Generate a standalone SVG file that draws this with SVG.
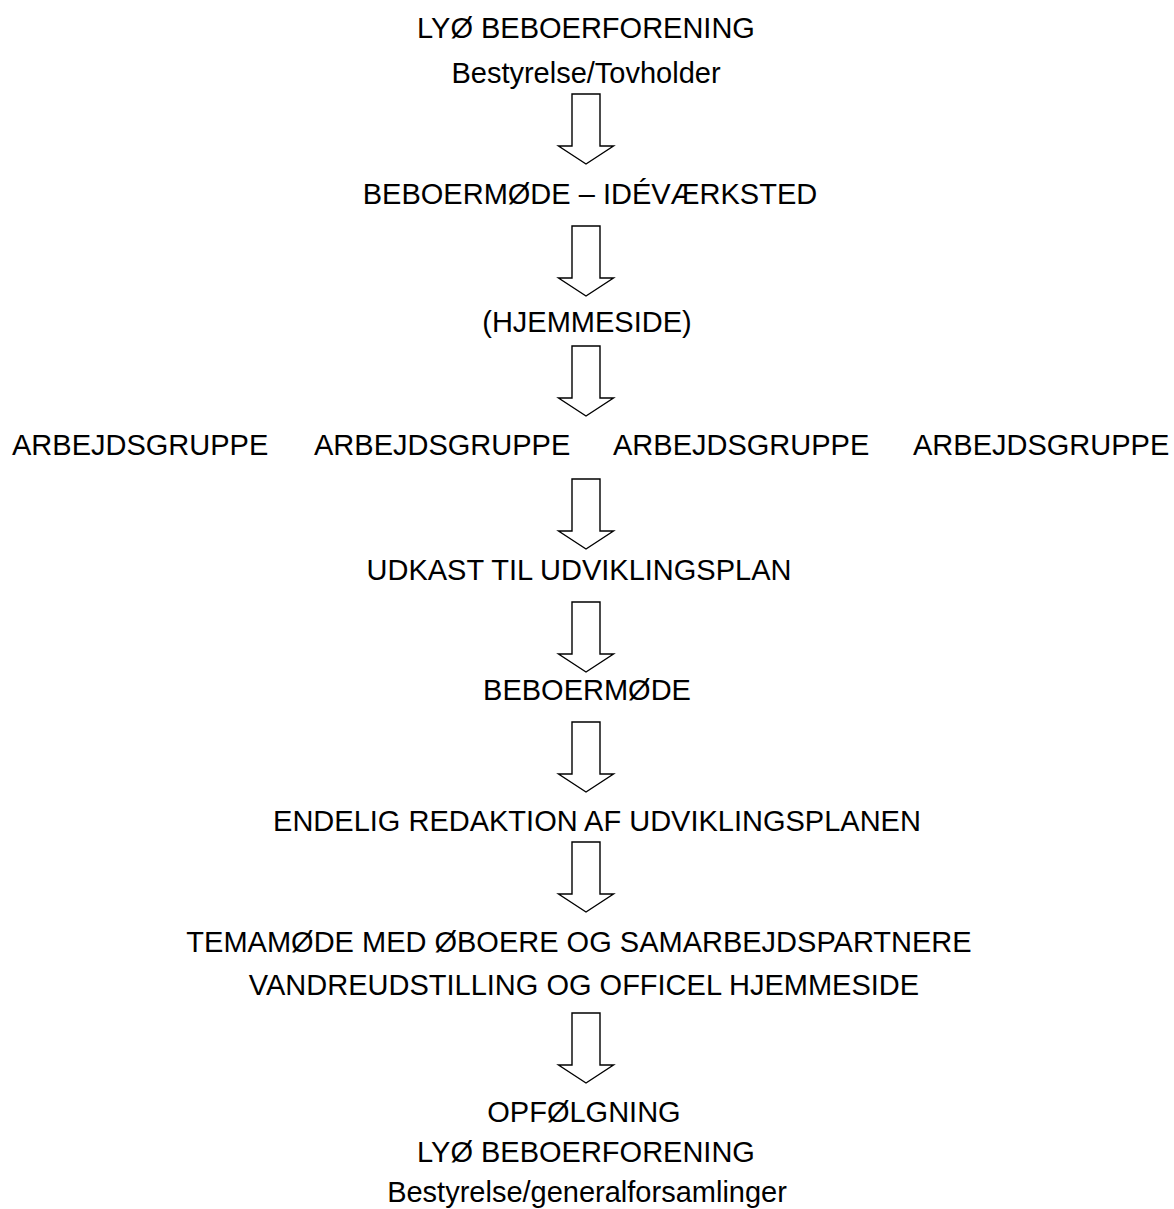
<svg xmlns="http://www.w3.org/2000/svg" width="1174" height="1209" viewBox="0 0 1174 1209">
<defs>
<style>
text{font-family:"Liberation Sans",Arial,sans-serif;font-size:29px;fill:#000;text-anchor:middle}
.l{text-anchor:start}
.arrow{fill:#fff;stroke:#000;stroke-width:1.4;stroke-linejoin:miter}
</style>
<path id="arr" class="arrow" d="M-14,0 H14 V52 H27.5 L0,70 L-27.5,52 H-14 Z"/>
</defs>
<rect width="1174" height="1209" fill="#fff"/>
<g id="n1"><text x="586" y="38">LYØ BEBOERFORENING</text><text x="586" y="83">Bestyrelse/Tovholder</text></g>
<g id="n2"><text x="590" y="204">BEBOERMØDE – IDÉVÆRKSTED</text></g>
<g id="n3"><text x="587" y="332">(HJEMMESIDE)</text></g>
<g id="n4a"><text class="l" x="12" y="455">ARBEJDSGRUPPE</text></g>
<g id="n4b"><text class="l" x="314" y="455">ARBEJDSGRUPPE</text></g>
<g id="n4c"><text class="l" x="613" y="455">ARBEJDSGRUPPE</text></g>
<g id="n4d"><text class="l" x="913" y="455">ARBEJDSGRUPPE</text></g>
<g id="n5"><text x="579" y="580">UDKAST TIL UDVIKLINGSPLAN</text></g>
<g id="n6"><text x="587" y="700">BEBOERMØDE</text></g>
<g id="n7"><text x="597" y="831">ENDELIG REDAKTION AF UDVIKLINGSPLANEN</text></g>
<g id="n8"><text x="579" y="952">TEMAMØDE MED ØBOERE OG SAMARBEJDSPARTNERE</text><text x="584" y="995">VANDREUDSTILLING OG OFFICEL HJEMMESIDE</text></g>
<g id="n9"><text x="584" y="1122">OPFØLGNING</text><text x="586" y="1162">LYØ BEBOERFORENING</text><text x="587" y="1202">Bestyrelse/generalforsamlinger</text></g>
<g id="connectors">
<use href="#arr" x="586" y="94"/>
<use href="#arr" x="586" y="226"/>
<use href="#arr" x="586" y="346"/>
<use href="#arr" x="586" y="479"/>
<use href="#arr" x="586" y="602"/>
<use href="#arr" x="586" y="722"/>
<use href="#arr" x="586" y="842"/>
<use href="#arr" x="586" y="1013"/>
</g>
</svg>
